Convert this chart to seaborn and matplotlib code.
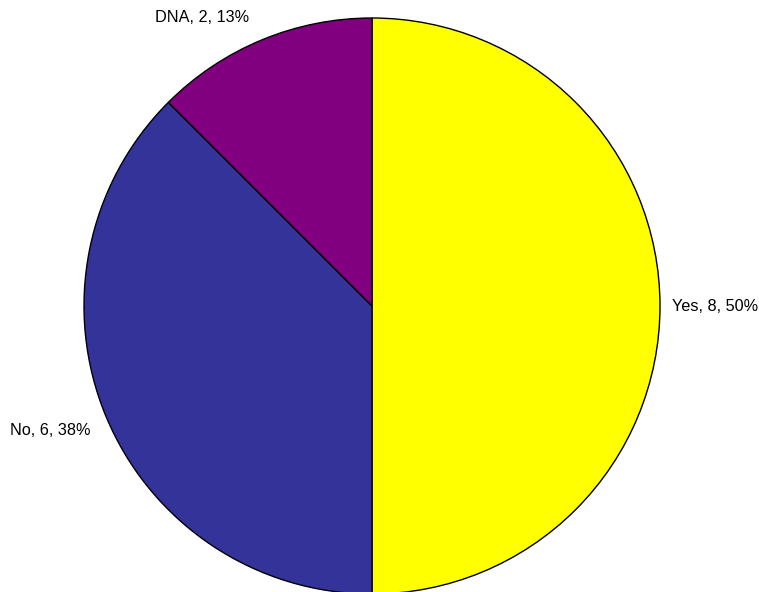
import matplotlib
matplotlib.use("Agg")
import matplotlib.pyplot as plt
import seaborn as sns

categories = ["Yes", "No", "DNA"]
counts = [8, 6, 2]
percent_labels = ["50%", "38%", "13%"]
colors = ["#FFFF00", "#333399", "#800080"]

# label anchor positions (in pie radius units) and alignment
label_pos = [(1.042, -0.003, "left"), (-0.976, -0.431, "right"), (-0.427, 1.0, "right")]

sns.set_theme(style="white")
plt.rcParams["font.family"] = ["Liberation Sans", "DejaVu Sans"]

fig = plt.figure(figsize=(7.59, 5.92), dpi=100)
ax = fig.add_axes([84/759, -2/592, 576/759, 576/592])
labels = [f"{c}, {n}, {p}" for c, n, p in zip(categories, counts, percent_labels)]
wedges, texts = ax.pie(
    counts, labels=labels, colors=colors, startangle=90, counterclock=False,
    labeldistance=1.05, wedgeprops=dict(edgecolor="black", linewidth=1.0),
    textprops=dict(fontsize=11.7, color="black"),
)
for t, (x, y, ha) in zip(texts, label_pos):
    t.set_position((x, y))
    t.set_ha(ha)
    t.set_va("center")
    t.set_clip_on(False)
for w in wedges:
    w.set_clip_on(False)
ax.set_xlim(-1, 1)
ax.set_ylim(-1, 1)
ax.axis("off")
fig.savefig("out.png", dpi=100, facecolor="white")
